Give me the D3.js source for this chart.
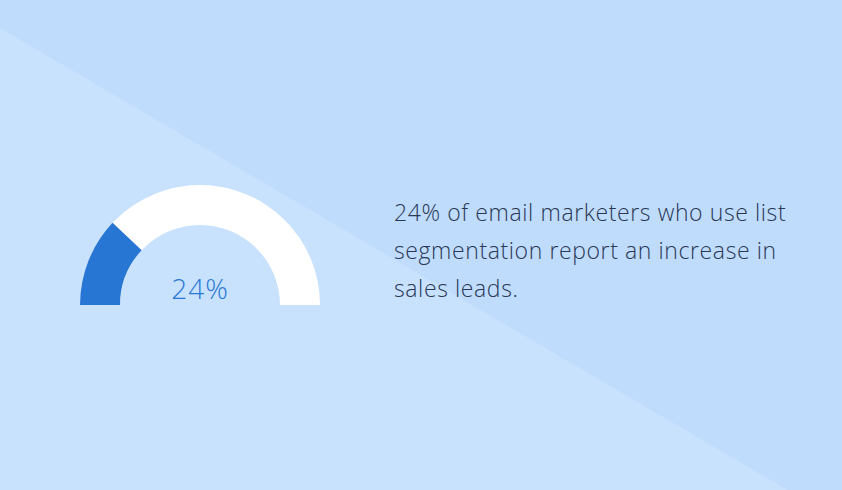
<!DOCTYPE html><html><head><meta charset="utf-8">
<script src="https://cdn.jsdelivr.net/npm/d3@7"></script>
<style>body{margin:0}svg{display:block}</style></head><body>
<script>
const value = [24];
const label = ["24%"];
const lines = ["24% of email marketers who use list","segmentation report an increase in","sales leads."];
const W=842,H=490;
const svg=d3.select("body").append("svg").attr("width",W).attr("height",H);
svg.append("rect").attr("width",W).attr("height",H).attr("fill","#c8e1fd");
svg.append("path").attr("d","M0,0L842,0L842,522L0,28Z").attr("fill","#bfdcfd");
const angle=d3.scaleLinear().domain([0,100]).range([-Math.PI/2,Math.PI/2]);
const arc=d3.arc().innerRadius(80).outerRadius(120);
const g=svg.append("g").attr("transform","translate(200,305)");
g.append("path").attr("d",arc({startAngle:angle(0),endAngle:angle(100)})).attr("fill","#ffffff");
g.append("path").attr("d",arc({startAngle:angle(0),endAngle:angle(value[0])})).attr("fill","#2876d4");
g.append("text").attr("y",-6).attr("text-anchor","middle").attr("font-family","Open Sans").attr("font-weight",300).attr("font-size",28).attr("letter-spacing",1).attr("fill","#2a78d6").text(label[0]);
svg.append("g").selectAll("text").data(lines).join("text").attr("x",394).attr("y",(d,i)=>221+i*38)
 .attr("font-family","Open Sans").attr("font-weight",300).attr("font-size",23).attr("letter-spacing",0.6).attr("fill","#2a3855").text(d=>d);
</script></body></html>
